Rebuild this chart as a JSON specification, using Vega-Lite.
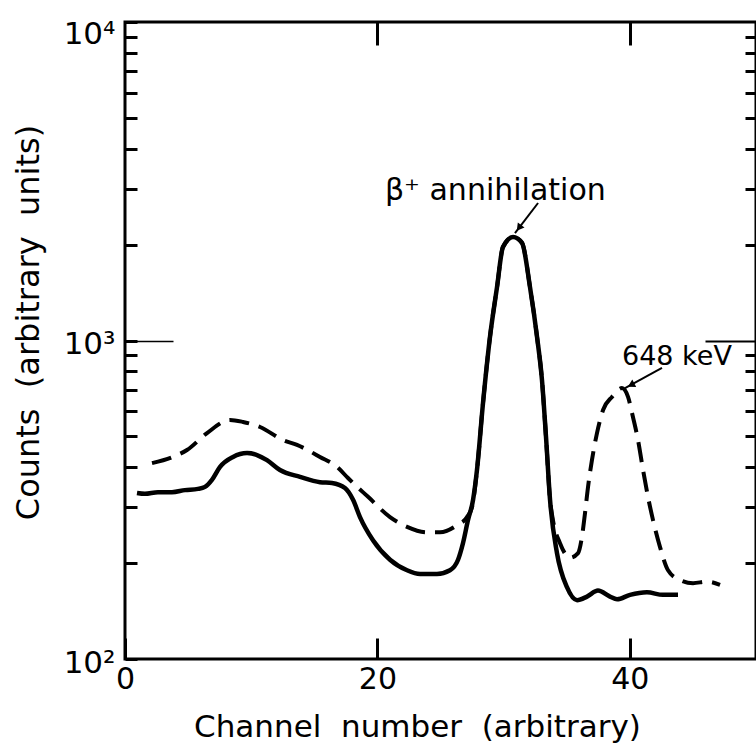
{
  "$schema": "https://vega.github.io/schema/vega-lite/v6.json",
  "width": 631,
  "height": 637,
  "autosize": {"type": "none"},
  "padding": {"left": 125, "top": 22, "right": 0, "bottom": 87},
  "background": "white",
  "config": {
    "view": {"stroke": "black", "strokeWidth": 3},
    "axis": {"domain": false, "grid": false, "tickColor": "black", "labelColor": "black", "titleColor": "black", "labelFont": "DejaVu Sans", "titleFont": "DejaVu Sans", "titleFontWeight": "normal"},
    "text": {"font": "DejaVu Sans", "color": "black"}
  },
  "datasets": {
    "solid": [
      {"channel": 0.95, "counts": 332}, {"channel": 1.58, "counts": 330}, {"channel": 2.61, "counts": 334}, {"channel": 3.72, "counts": 334},
      {"channel": 4.75, "counts": 339}, {"channel": 5.78, "counts": 342}, {"channel": 6.34, "counts": 347}, {"channel": 6.89, "counts": 365},
      {"channel": 7.53, "counts": 401}, {"channel": 8.56, "counts": 431}, {"channel": 9.67, "counts": 443}, {"channel": 10.46, "counts": 437},
      {"channel": 11.25, "counts": 421}, {"channel": 12.28, "counts": 392}, {"channel": 13.87, "counts": 373}, {"channel": 15.45, "counts": 359},
      {"channel": 16.4, "counts": 357}, {"channel": 17.43, "counts": 344}, {"channel": 18.07, "counts": 316}, {"channel": 18.62, "counts": 279},
      {"channel": 19.65, "counts": 236}, {"channel": 21.0, "counts": 205}, {"channel": 22.35, "counts": 190}, {"channel": 23.38, "counts": 185},
      {"channel": 24.72, "counts": 185}, {"channel": 25.75, "counts": 190}, {"channel": 26.39, "counts": 205}, {"channel": 26.78, "counts": 231},
      {"channel": 27.18, "counts": 273}, {"channel": 27.58, "counts": 316}, {"channel": 27.89, "counts": 392}, {"channel": 28.37, "counts": 637},
      {"channel": 28.92, "counts": 1026}, {"channel": 29.48, "counts": 1472}, {"channel": 29.95, "counts": 1966}, {"channel": 30.75, "counts": 2113},
      {"channel": 31.46, "counts": 2024}, {"channel": 32.09, "counts": 1472}, {"channel": 32.65, "counts": 1026}, {"channel": 33.04, "counts": 752},
      {"channel": 33.36, "counts": 498}, {"channel": 33.68, "counts": 316}, {"channel": 34.23, "counts": 215}, {"channel": 35.02, "counts": 168},
      {"channel": 35.82, "counts": 153}, {"channel": 36.61, "counts": 157}, {"channel": 37.48, "counts": 164}, {"channel": 38.43, "counts": 157},
      {"channel": 38.99, "counts": 154}, {"channel": 40.02, "counts": 159}, {"channel": 41.36, "counts": 162}, {"channel": 42.63, "counts": 159},
      {"channel": 43.82, "counts": 159}
    ],
    "dashed": [
      {"channel": 2.14, "counts": 412}, {"channel": 3.8, "counts": 431}, {"channel": 4.91, "counts": 453}, {"channel": 6.5, "counts": 512},
      {"channel": 8.32, "counts": 563}, {"channel": 9.35, "counts": 555}, {"channel": 10.7, "counts": 535}, {"channel": 12.52, "counts": 487},
      {"channel": 13.63, "counts": 470}, {"channel": 15.45, "counts": 431}, {"channel": 16.8, "counts": 401}, {"channel": 17.67, "counts": 370},
      {"channel": 18.23, "counts": 352}, {"channel": 19.26, "counts": 323}, {"channel": 21.0, "counts": 279}, {"channel": 22.35, "counts": 260},
      {"channel": 23.93, "counts": 250}, {"channel": 24.96, "counts": 250}, {"channel": 26.31, "counts": 263}, {"channel": 27.1, "counts": 279},
      {"channel": 27.5, "counts": 300}, {"channel": 27.89, "counts": 392}, {"channel": 28.37, "counts": 637}, {"channel": 28.92, "counts": 1026},
      {"channel": 29.48, "counts": 1472}, {"channel": 29.95, "counts": 1966}, {"channel": 30.75, "counts": 2113}, {"channel": 31.46, "counts": 2024},
      {"channel": 32.09, "counts": 1472}, {"channel": 32.65, "counts": 1026}, {"channel": 33.04, "counts": 752}, {"channel": 33.36, "counts": 498},
      {"channel": 33.68, "counts": 316}, {"channel": 33.91, "counts": 273}, {"channel": 34.47, "counts": 231}, {"channel": 35.26, "counts": 208},
      {"channel": 35.9, "counts": 215}, {"channel": 36.21, "counts": 242}, {"channel": 36.45, "counts": 287}, {"channel": 36.69, "counts": 347},
      {"channel": 37.0, "counts": 421}, {"channel": 37.4, "counts": 512}, {"channel": 37.88, "counts": 605}, {"channel": 38.59, "counts": 665},
      {"channel": 39.38, "counts": 709}, {"channel": 39.86, "counts": 665}, {"channel": 40.25, "counts": 575}, {"channel": 40.65, "counts": 487},
      {"channel": 41.05, "counts": 392}, {"channel": 41.44, "counts": 323}, {"channel": 41.84, "counts": 273}, {"channel": 42.39, "counts": 225},
      {"channel": 43.03, "counts": 190}, {"channel": 43.98, "counts": 177}, {"channel": 45.01, "counts": 173}, {"channel": 46.12, "counts": 175},
      {"channel": 47.15, "counts": 171}
    ],
    "labels": [
      {"id": "beta", "text": "β⁺ annihilation", "channel": 20.6, "counts": 2761},
      {"id": "kev", "text": "648 keV", "channel": 39.38, "counts": 838}
    ],
    "arrows": [
      {"id": "beta", "x0": 32.73, "y0": 2702, "x1": 30.9, "y1": 2175},
      {"id": "kev", "x0": 42.55, "y0": 820, "x1": 39.62, "y1": 709}
    ],
    "heads": [
      {"id": "beta", "channel": 31.22, "counts": 2256},
      {"id": "kev", "channel": 40.1, "counts": 725}
    ]
  },
  "layer": [
    {
      "data": {"name": "dashed"},
      "mark": {"type": "line", "color": "black", "strokeWidth": 4, "strokeDash": [20, 10], "interpolate": "monotone", "clip": true},
      "encoding": {
        "x": {"field": "channel", "type": "quantitative", "scale": {"domain": [0, 50], "nice": false, "zero": false},
              "axis": {"orient": "top", "values": [20, 40], "tickSize": -23, "tickWidth": 3, "labels": false, "title": null}},
        "y": {"field": "counts", "type": "quantitative", "scale": {"type": "log", "domain": [100, 10000], "nice": false},
              "axis": {"orient": "right", "values": [200, 300, 400, 500, 600, 700, 800, 900, 2000, 3000, 4000, 5000, 6000, 7000, 8000, 9000], "tickSize": -11, "tickWidth": 3, "labels": false, "title": null}}
      }
    },
    {
      "data": {"name": "solid"},
      "mark": {"type": "line", "color": "black", "strokeWidth": 4.5, "interpolate": "monotone", "clip": true},
      "encoding": {
        "x": {"field": "channel", "type": "quantitative", "scale": {"domain": [0, 50], "nice": false, "zero": false},
              "axis": {"orient": "bottom", "values": [0, 20, 40], "tickSize": -21, "tickWidth": 3, "labelPadding": 26, "labelFontSize": 30, "labelFlush": false, "labelOverlap": false, "labelBaseline": "top",
                       "title": "Channel\u00a0 number\u00a0 (arbitrary)", "titleFontSize": 31, "titleX": 292, "titleY": 77, "titleBaseline": "alphabetic", "titleAlign": "center"}},
        "y": {"field": "counts", "type": "quantitative", "scale": {"type": "log", "domain": [100, 10000], "nice": false},
              "axis": {"orient": "left", "values": [100, 200, 300, 400, 500, 600, 700, 800, 900, 1000, 2000, 3000, 4000, 5000, 6000, 7000, 8000, 9000, 10000],
                       "tickSize": -12, "tickWidth": 3, "labelPadding": 22, "labelFontSize": 31, "labelOverlap": false, "labelFlush": false,
                       "labelExpr": "datum.value > 9000 ? '10⁴' : (datum.value > 900 && datum.value < 1100) ? '10³' : datum.value < 110 ? '10²' : ''",
                       "labelBaseline": "middle",
                       "labelOffset": {"condition": {"test": "datum.value > 9000", "value": 12}, "value": 4},
                       "title": "Counts\u00a0 (arbitrary\u00a0 units)", "titleFontSize": 32, "titleX": -97, "titleY": 300, "titleAngle": 270, "titleAlign": "center", "titleBaseline": "middle"}}
      }
    },
    {
      "data": {"name": "labels"},
      "transform": [{"filter": "datum.id == 'beta'"}],
      "mark": {"type": "text", "align": "left", "baseline": "alphabetic", "fontSize": 30},
      "encoding": {
        "x": {"field": "channel", "type": "quantitative", "scale": {"domain": [0, 50], "nice": false, "zero": false}, "axis": null},
        "y": {"field": "counts", "type": "quantitative", "scale": {"type": "log", "domain": [100, 10000], "nice": false},
              "axis": {"orient": "left", "values": [1000], "tickSize": -48, "tickWidth": 1.5, "labels": false, "title": null}},
        "text": {"field": "text"}
      }
    },
    {
      "data": {"name": "labels"},
      "transform": [{"filter": "datum.id == 'kev'"}],
      "mark": {"type": "text", "align": "left", "baseline": "alphabetic", "fontSize": 27},
      "encoding": {
        "x": {"field": "channel", "type": "quantitative", "scale": {"domain": [0, 50], "nice": false, "zero": false}, "axis": null},
        "y": {"field": "counts", "type": "quantitative", "scale": {"type": "log", "domain": [100, 10000], "nice": false},
              "axis": {"orient": "right", "values": [1000], "tickSize": -51, "tickWidth": 2, "labels": false, "title": null}},
        "text": {"field": "text"}
      }
    },
    {
      "data": {"name": "arrows"},
      "mark": {"type": "rule", "color": "black", "strokeWidth": 2},
      "encoding": {
        "x": {"field": "x0", "type": "quantitative", "scale": {"domain": [0, 50], "nice": false, "zero": false}, "axis": null},
        "x2": {"field": "x1"},
        "y": {"field": "y0", "type": "quantitative", "scale": {"type": "log", "domain": [100, 10000], "nice": false}, "axis": null},
        "y2": {"field": "y1"}
      }
    },
    {
      "data": {"name": "heads"},
      "transform": [{"filter": "datum.id == 'beta'"}],
      "mark": {"type": "point", "shape": "triangle-up", "filled": true, "color": "black", "size": 70, "angle": 217, "opacity": 1},
      "encoding": {
        "x": {"field": "channel", "type": "quantitative", "scale": {"domain": [0, 50], "nice": false, "zero": false}, "axis": null},
        "y": {"field": "counts", "type": "quantitative", "scale": {"type": "log", "domain": [100, 10000], "nice": false}, "axis": null}
      }
    },
    {
      "data": {"name": "heads"},
      "transform": [{"filter": "datum.id == 'kev'"}],
      "mark": {"type": "point", "shape": "triangle-up", "filled": true, "color": "black", "size": 70, "angle": 242, "opacity": 1},
      "encoding": {
        "x": {"field": "channel", "type": "quantitative", "scale": {"domain": [0, 50], "nice": false, "zero": false}, "axis": null},
        "y": {"field": "counts", "type": "quantitative", "scale": {"type": "log", "domain": [100, 10000], "nice": false}, "axis": null}
      }
    }
  ],
  "resolve": {"axis": {"x": "independent", "y": "independent"}}
}
